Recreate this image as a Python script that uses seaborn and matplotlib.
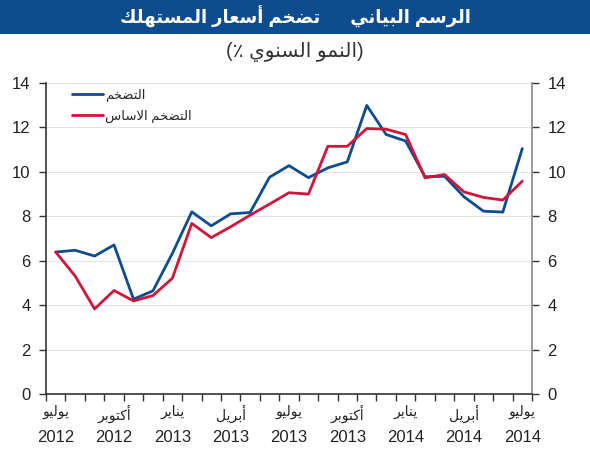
import numpy as np
import pandas as pd
import matplotlib
matplotlib.use("Agg")
import matplotlib.pyplot as plt
from matplotlib.patches import Rectangle
import matplotlib.transforms as mtransforms
import seaborn as sns

# ---------------- data ----------------
tick_months = ["يوليو", "أكتوبر", "يناير", "أبريل", "يوليو", "أكتوبر", "يناير", "أبريل", "يوليو"]
tick_years = ["2012", "2012", "2013", "2013", "2013", "2013", "2014", "2014", "2014"]
inflation = [6.39, 6.47, 6.21, 6.71, 4.27, 4.64, 6.33, 8.20, 7.57, 8.11, 8.17, 9.76, 10.28,
             9.74, 10.18, 10.45, 12.99, 11.68, 11.39, 9.78, 9.80, 8.88, 8.23, 8.19, 11.05]
core_inflation = [6.39, 5.31, 3.83, 4.66, 4.19, 4.43, 5.21, 7.68, 7.04, 7.53, 8.05, 8.55, 9.06,
                  9.00, 11.15, 11.15, 11.95, 11.92, 11.68, 9.73, 9.88, 9.10, 8.85, 8.73, 9.58]
series_names = ["التضخم", "التضخم الاساس"]
title_text = "الرسم البياني      تضخم أسعار المستهلك"
subtitle_text = "(النمو السنوي ٪)"

# ------------- minimal Arabic shaping (matplotlib has no RTL layout) -------------
FORMS = {
    '\u0627': ('\uFE8D', '\uFE8E'),
    '\u0623': ('\uFE83', '\uFE84'),
    '\u0628': ('\uFE8F', '\uFE90', '\uFE91', '\uFE92'),
    '\u062A': ('\uFE95', '\uFE96', '\uFE97', '\uFE98'),
    '\u062E': ('\uFEA5', '\uFEA6', '\uFEA7', '\uFEA8'),
    '\u0631': ('\uFEAD', '\uFEAE'),
    '\u0633': ('\uFEB1', '\uFEB2', '\uFEB3', '\uFEB4'),
    '\u0636': ('\uFEBD', '\uFEBE', '\uFEBF', '\uFEC0'),
    '\u0639': ('\uFEC9', '\uFECA', '\uFECB', '\uFECC'),
    '\u0643': ('\uFED9', '\uFEDA', '\uFEDB', '\uFEDC'),
    '\u0644': ('\uFEDD', '\uFEDE', '\uFEDF', '\uFEE0'),
    '\u0645': ('\uFEE1', '\uFEE2', '\uFEE3', '\uFEE4'),
    '\u0646': ('\uFEE5', '\uFEE6', '\uFEE7', '\uFEE8'),
    '\u0647': ('\uFEE9', '\uFEEA', '\uFEEB', '\uFEEC'),
    '\u0648': ('\uFEED', '\uFEEE'),
    '\u064A': ('\uFEF1', '\uFEF2', '\uFEF3', '\uFEF4'),
}
LAM_ALEF = {'\u0627': ('\uFEFB', '\uFEFC'), '\u0623': ('\uFEF7', '\uFEF8')}
MIRROR = {'(': ')', ')': '('}


def shape_line(s):
    units = []
    i = 0
    while i < len(s):
        c = s[i]
        if c == '\u0644' and i + 1 < len(s) and s[i + 1] in LAM_ALEF:
            units.append(LAM_ALEF[s[i + 1]])
            i += 2
            continue
        units.append(FORMS.get(c, c))
        i += 1
    out = []
    for j, u in enumerate(units):
        if isinstance(u, tuple):
            prev = units[j - 1] if j > 0 else None
            nxt = units[j + 1] if j + 1 < len(units) else None
            jp = isinstance(prev, tuple) and len(prev) == 4
            jn = len(u) == 4 and isinstance(nxt, tuple)
            if len(u) == 2:
                out.append(u[1] if jp else u[0])
            else:
                if jp and jn:
                    out.append(u[3])
                elif jp:
                    out.append(u[1])
                elif jn:
                    out.append(u[2])
                else:
                    out.append(u[0])
        else:
            out.append(MIRROR.get(u, u))
    return ''.join(reversed(out))


def ar(s):
    return '\n'.join(shape_line(line) for line in s.split('\n'))


# ---------------- style ----------------
sns.set_theme(style="white")
plt.rcParams['font.family'] = ['Liberation Sans', 'DejaVu Sans']

BLUE = "#0D4C8F"
RED = "#D2143A"

n = len(inflation)
df = pd.DataFrame({
    "x": list(range(n)) * 2,
    "value": inflation + core_inflation,
    "series": [ar(series_names[0])] * n + [ar(series_names[1])] * n,
})

fig = plt.figure(figsize=(5.9, 4.5), dpi=100)
fig.patches.append(Rectangle((0, 1 - 34 / 450), 1, 34 / 450, transform=fig.transFigure,
                             facecolor=BLUE, edgecolor='none', zorder=0))
fig.text(0.5, 1 - 17 / 450, ar(title_text), ha='center', va='center', color='white',
         fontsize=13, fontweight='bold')
fig.text(0.5, 1 - 52 / 450, ar(subtitle_text), ha='center', va='center', color='#333333',
         fontsize=14.5)

ax = fig.add_axes([46 / 590, 1 - 394 / 450, 486 / 590, 311 / 450])
sns.lineplot(data=df, x="x", y="value", hue="series",
             palette=[BLUE, RED], linewidth=2.0, ax=ax)

ax.set_xlim(-0.5, n - 0.5)
ax.set_ylim(0, 14)
ax.set_yticks(np.arange(0, 15, 2))
major_x = np.arange(0, n, 3)
ax.set_xticks(major_x)
ax.set_xticklabels([ar(m) for m in tick_months], fontsize=10, color='#222222')
ax.set_xticks(np.arange(-0.5, n, 1), minor=True)
ax.set_xlabel("")
ax.set_ylabel("")

# year line under the month names
trans = mtransforms.offset_copy(ax.get_xaxis_transform(), fig=fig, x=0, y=-43, units='dots')
for xv, yr in zip(major_x, tick_years):
    ax.text(xv, 0, yr, transform=trans, ha='center', va='center', fontsize=12,
            color='#222222')

ax.tick_params(axis='x', which='major', length=0, pad=8)
ax.tick_params(axis='x', which='minor', bottom=True, length=5, width=1, color='#333333',
               direction='out')
ax.tick_params(axis='y', which='major', left=True, right=True, labelleft=True,
               labelright=True, length=5, width=1, direction='out', pad=6,
               labelsize=12, labelcolor='#222222', color='#333333')

ax.yaxis.grid(True, color='#E4E4E4', linewidth=0.8)
ax.set_axisbelow(True)
ax.spines['top'].set_visible(False)
ax.spines['left'].set_color('#333333')
ax.spines['bottom'].set_color('#333333')
ax.spines['right'].set_color('#888888')
for s in ['left', 'bottom', 'right']:
    ax.spines[s].set_linewidth(1.2)

handles, labels = ax.get_legend_handles_labels()
ax.legend(handles, labels, loc='upper left', bbox_to_anchor=(0.03, 1.02), frameon=False,
          fontsize=9.5, handlelength=2.3, handletextpad=0.2, labelspacing=0.6)

fig.savefig("out.png", dpi=100)
